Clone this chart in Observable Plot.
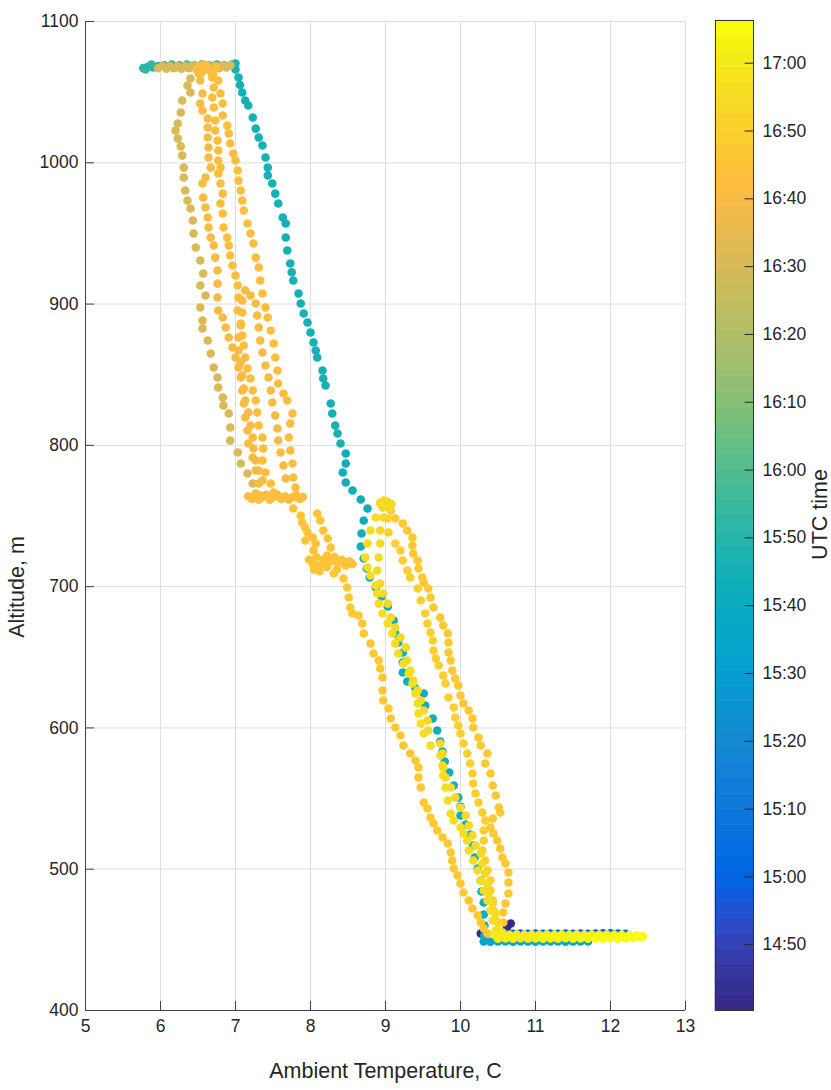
<!DOCTYPE html>
<html><head><meta charset="utf-8">
<script src="https://cdn.jsdelivr.net/npm/d3@7"></script>
<script src="https://cdn.jsdelivr.net/npm/@observablehq/plot@0.6"></script>
<style>
html,body{margin:0;padding:0;background:#fff;}
#wrap{position:relative;width:831px;height:1090px;overflow:hidden;background:#fff;}
#main{position:absolute;left:0;top:0;}
#cbar{position:absolute;left:700px;top:0;}
</style></head><body><div id="wrap"><div id="main"></div><div id="cbar"></div></div>
<script>
// ---------------- data (temperature °C, altitude m) ----------------
const xTicks = [5,6,7,8,9,10,11,12,13];
const yTicks = [400,500,600,700,800,900,1000,1100];
const cbTickLabels = ["14:50","15:00","15:10","15:20","15:30","15:40","15:50","16:00","16:10","16:20","16:30","16:40","16:50","17:00"];
const timeLimits = ["14:40:18","17:06:18"];

const groundEarly = [[10.27,454.5],[10.33,453.6],[10.62,459.0],[10.67,461.6]];
const groundBlue = [[10.6,454.3],[10.7,454.3],[10.8,454.5],[10.9,454.3],[11.0,454.4],[11.1,454.3],[11.2,454.5],[11.3,454.3],[11.4,454.4],[11.5,454.3],[11.6,454.5],[11.7,454.3],[11.8,454.4],[11.9,454.6],[12.0,454.7],[12.1,454.5],[12.2,454.3]];
const groundCyan = [[10.31,448.9],[10.4,448.7],[10.5,448.9],[10.6,448.8],[10.7,448.7],[10.8,448.9],[10.9,448.8],[11.0,448.7],[11.1,448.9],[11.2,448.8],[11.3,448.9],[11.4,448.7],[11.5,448.8],[11.6,448.9],[11.7,448.8]];
const climbLow = [[10.32,453.1],[10.32,460.2],[10.31,467.9],[10.31,476.4],[10.28,484.2],[10.27,492],[10.23,500.5],[10.19,508.3],[10.17,516.8],[10.13,524.6],[10.07,531.6],[10.0,538],[10.0,544.4],[9.97,550.8],[9.91,559.2],[9.85,568.5],[9.79,576.2],[9.76,583.3],[9.73,590.4],[9.69,598.2],[9.63,606.7],[9.53,615.9],[9.51,624.4],[9.4,627.9],[9.29,632.9],[9.23,639.2],[9.23,646.3],[9.23,653.4],[9.17,660.5],[9.13,666.8],[9.11,676],[9.03,685.9],[8.95,693],[8.87,699.4],[8.79,706.5],[8.75,712.8],[8.71,719.9],[8.67,728.4],[8.68,737.6],[8.71,746.8],[8.76,755.3],[8.67,761.7],[8.56,768],[8.47,773.7],[8.43,780.8],[8.47,787.2],[8.47,794.2]];
const climbHigh = [[8.4,801.3],[8.36,808.4],[8.33,814],[8.29,822.5],[8.27,829.6],[8.2,842.4],[8.17,847.3],[8.16,853],[8.09,862.2],[8.07,867.1],[8.04,872.8],[8.0,879.9],[7.96,887],[7.91,893.3],[7.87,900.4],[7.84,907.5],[7.77,916.7],[7.75,922.5],[7.73,928.7],[7.69,937.9],[7.67,947.1],[7.67,957],[7.63,961.3],[7.57,971.2],[7.53,978.2],[7.49,985.3],[7.43,991],[7.43,996.6],[7.4,1003.7],[7.36,1012.2],[7.31,1017.9],[7.27,1024.2],[7.23,1032],[7.17,1040.5],[7.13,1044.1],[7.09,1049.7],[7.06,1055],[7.04,1060.4],[7.0,1066],[7.0,1070.3]];
const topTeal = [[6.95,1069.5],[6.85,1069],[6.75,1069.5],[6.65,1069],[6.55,1069.5],[6.45,1069],[6.35,1069.5],[6.25,1069],[6.15,1069.5],[6.05,1069],[5.97,1068.5],[5.9,1067.5],[5.83,1068],[5.77,1067],[5.8,1066],[5.88,1069.5]];
const topOlive = [[5.97,1067],[6.03,1068.5],[6.08,1066.5],[6.13,1068.5],[6.18,1067],[6.23,1068.5],[6.28,1066.5],[6.33,1068.5],[6.38,1067],[6.43,1069],[6.48,1066.5],[6.53,1068.5],[6.58,1067],[6.63,1069],[6.68,1066.5],[6.73,1068.5],[6.78,1067],[6.83,1069],[6.88,1067.5],[6.93,1069]];
const descent1 = [[6.4,1059.6],[6.36,1054.7],[6.4,1049.7],[6.29,1044.1],[6.27,1035.6],[6.23,1027.8],[6.2,1022.8],[6.23,1017.2],[6.27,1011.6],[6.29,1005.1],[6.31,996.6],[6.31,989.6],[6.33,980.4],[6.36,973.3],[6.4,967.6],[6.43,959.1],[6.44,949.9],[6.47,940],[6.53,930.8],[6.57,921.6],[6.53,913.1],[6.6,906.1],[6.53,897.6],[6.56,888.4],[6.56,882.7],[6.63,874.2],[6.67,865],[6.71,855.1],[6.76,848],[6.77,840.9],[6.83,833.9],[6.84,828.2],[6.91,822.5],[6.93,812.6],[6.93,803.4],[7.03,794.9],[7.07,787.2],[7.16,780.1],[7.23,773],[7.27,765.9]];
const loop5 = [[7.36,775.1],[7.31,782.2],[7.27,789.3],[7.24,797.8],[7.23,805.6],[7.2,814],[7.17,823.2],[7.13,831.7],[7.11,840.2],[7.09,849.4],[7.07,858.6],[7.04,867.1],[7.04,876.3],[7.07,884.8],[7.09,894],[7.09,902.5],[7.13,909.6],[7.2,906.1],[7.27,900.4],[7.29,891.9],[7.31,883.4],[7.33,874.2],[7.36,865.7],[7.4,856.5],[7.44,848],[7.47,838.8],[7.49,830.3],[7.53,821.1],[7.56,811.9],[7.57,803.4],[7.6,794.9],[7.64,785.7],[7.67,776.5]];
const descent2 = [[6.51,1063.2],[6.53,1058.2],[6.56,1049],[6.53,1042],[6.56,1037],[6.63,1031.3],[6.63,1025],[6.63,1017.9],[6.64,1010.8],[6.64,1003.7],[6.67,996.6],[6.6,989.6],[6.56,985.3],[6.57,975.4],[6.6,968.3],[6.63,961.3],[6.64,954.2],[6.67,947.1],[6.71,941.4],[6.73,932.9],[6.76,923.8],[6.76,914.5],[6.76,904.6],[6.77,895.4],[6.83,890.5],[6.87,883.4],[6.91,876.3],[6.96,869.3],[7.0,862.2],[7.04,855.1],[7.07,848],[7.09,838.8],[7.11,829.6],[7.13,819.7],[7.16,810.5],[7.17,801.3],[7.23,791.4],[7.27,782.2],[7.31,773],[7.33,764.5]];
const topOrange = [[6.48,1066],[6.55,1064],[6.62,1067.5],[6.7,1063],[6.75,1068],[6.58,1069.5],[6.66,1065],[6.52,1068.5]];
const descent3 = [[6.69,1060.4],[6.71,1053.3],[6.69,1046.2],[6.71,1039.1],[6.73,1029.9],[6.73,1022.8],[6.76,1015.8],[6.77,1008.7],[6.77,1001.6],[6.8,996.6],[6.77,992.4],[6.8,985.3],[6.83,978.2],[6.8,971.2],[6.83,964.1],[6.84,954.2],[6.89,947.1],[6.91,941.4],[6.93,934.4],[6.96,927.3],[7.0,920.2],[7.03,913.1],[7.04,904.6],[7.03,895.4],[7.07,886.2],[7.09,877.7],[7.11,870.7],[7.13,862.2],[7.16,854.4],[7.2,847.3],[7.23,838.8],[7.27,831.7],[7.29,823.2],[7.31,814],[7.36,805.6],[7.37,797.8],[7.36,789.3],[7.4,780.8],[7.47,773],[7.51,766.6]];
const descent4 = [[6.77,1058.2],[6.8,1049],[6.83,1042],[6.83,1033.5],[6.89,1026.4],[6.91,1020.7],[6.93,1013.6],[6.97,1006.6],[7.0,1001.6],[7.03,994.5],[7.04,987.4],[7.07,980.4],[7.09,973.3],[7.11,966.2],[7.16,957],[7.2,949.9],[7.24,942.9],[7.27,932.9],[7.31,925.9],[7.33,916.7],[7.36,907.5],[7.4,897.6],[7.43,890.5],[7.47,881.3],[7.51,872.1],[7.53,862.2],[7.56,853],[7.57,843.8],[7.64,836.7],[7.69,831.7],[7.76,822.5],[7.73,815.5],[7.71,805.6],[7.73,796.4],[7.76,787.2],[7.77,777.3],[7.8,770.2],[7.83,763]];
const level762 = [[7.17,764],[7.22,762],[7.27,765],[7.31,761.5],[7.36,763.5],[7.41,765],[7.46,761.5],[7.51,763.5],[7.56,765],[7.61,762],[7.66,764],[7.71,761.5],[7.76,763.5],[7.81,765],[7.86,762],[7.9,763.5]];
const connector = [[7.77,755.3],[7.87,750.3],[7.89,745.4],[7.93,741.9],[7.96,738.3],[7.93,732.7],[8.03,734.8],[8.07,730.5],[8.04,725.6],[8.09,751.8],[8.13,746.8],[8.17,739.7],[8.23,734.1],[8.27,727.7]];
const level715 = [[7.98,719],[8.03,716],[8.08,721],[8.12,715],[8.17,719],[8.22,714],[8.27,718],[8.32,721],[8.37,716],[8.42,719],[8.47,715],[8.52,718],[8.56,716],[8.12,711],[8.22,722],[8.35,712],[8.05,712]];
const leftTrack = [[8.31,709.3],[8.44,705.8],[8.49,699.4],[8.51,692.3],[8.53,685.2],[8.56,681],[8.64,679.6],[8.69,673.9],[8.71,666.8],[8.8,659.8],[8.84,652.7],[8.91,647.7],[8.93,642.1],[8.96,635.7],[8.96,626.5],[8.97,619.4],[9.04,613.7],[9.07,606.7],[9.13,600.3],[9.2,594.6],[9.24,587.6],[9.33,581.9],[9.4,576.9],[9.44,572],[9.44,564.9],[9.47,557.8],[9.51,547.2],[9.56,543],[9.6,536.6],[9.64,532.4],[9.69,527.4],[9.76,522.4],[9.83,518.2],[9.87,511.8],[9.89,506.2],[9.91,500.5],[9.96,495.5],[10.0,489.9],[10.04,483.5],[10.11,477.9],[10.16,472.2],[10.23,467.2],[10.27,462.3],[10.31,458],[10.36,454.5]];
const climbY4 = [[10.57,462.3],[10.57,469.4],[10.6,475.7],[10.64,482.8],[10.64,490.6],[10.64,497.7],[10.6,504],[10.56,508.3],[10.53,514.7],[10.49,520.3],[10.44,525.3],[10.4,529.5],[10.43,535.9],[10.53,540.1],[10.51,543.7],[10.47,552.2],[10.43,559.2],[10.4,567.7],[10.33,574.8],[10.36,581.9],[10.27,587.6],[10.24,593.2],[10.17,600.3],[10.16,606.7],[10.11,612.3],[10.04,617.3],[10.0,623],[9.97,630],[9.93,635],[9.89,640.6],[9.87,647.7],[9.84,653.4],[9.84,660.5],[9.83,666.8],[9.77,672.5],[9.73,678.2],[9.64,685.2],[9.6,692.3],[9.57,698.7],[9.51,702.9],[9.49,706.5],[9.44,712.8],[9.43,718.5],[9.37,723.4],[9.36,729.1],[9.36,734.8],[9.29,739.7],[9.23,744.7],[9.13,748.2],[9.07,753.9],[9.03,758.8]];
const descY3 = [[9.0,757.4],[9.03,748.2],[9.04,738.3],[9.13,730.5],[9.2,725.6],[9.23,718.5],[9.29,711.4],[9.33,706.5],[9.43,698.7],[9.47,690.2],[9.53,681],[9.56,673.9],[9.6,667.5],[9.63,661.9],[9.64,654.8],[9.67,649.1],[9.71,644.2],[9.77,637.1],[9.8,631.4],[9.84,621.5],[9.91,614.5],[9.93,607.4],[9.97,601.7],[10.0,596.1],[10.04,589],[10.09,581.9],[10.13,574.8],[10.16,567.7],[10.17,560.7],[10.2,553.6],[10.24,547.2],[10.29,540.1],[10.33,534.5],[10.31,527.4],[10.31,520.3],[10.29,513.2],[10.33,506.2],[10.36,499.1],[10.4,492],[10.4,484.9],[10.43,477.9],[10.44,470.8],[10.47,463.7],[10.49,456.6]];
const climbY2 = [[10.56,455.2],[10.51,461.6],[10.47,468.7],[10.43,475.7],[10.37,482.8],[10.36,489.9],[10.33,497],[10.29,504],[10.27,511.1],[10.2,516.8],[10.16,523.9],[10.11,530.9],[10.07,538],[10.0,543.7],[9.93,550.8],[9.87,557.8],[9.8,564.9],[9.77,572],[9.76,581.9],[9.73,589],[9.57,598.2],[9.56,605.3],[9.51,612.3],[9.47,619.4],[9.43,626.5],[9.37,633.6],[9.33,640.6],[9.29,647.7],[9.27,657],[9.2,664],[9.13,671.1],[9.07,678.2],[9.03,688],[8.97,695.1],[8.93,702.2],[8.89,711.4],[8.91,720.6],[8.93,730.5],[8.93,739.7],[8.97,748.9],[9.03,758.8]];
const peak = [[8.93,759.5],[8.98,761],[9.03,760],[9.08,758.5],[8.96,756],[9.05,755.5]];
const descY1 = [[8.93,758.8],[8.87,748.9],[8.8,739.7],[8.76,730.5],[8.73,720.6],[8.76,713.5],[8.8,707.9],[8.87,700.8],[8.89,695.1],[8.91,688],[8.96,681],[9.03,673.9],[9.09,666.8],[9.13,659.8],[9.17,652.7],[9.24,645.6],[9.31,638.5],[9.36,631.4],[9.4,624.4],[9.43,617.3],[9.44,610.2],[9.47,603.1],[9.51,596.1],[9.6,587.6],[9.73,580.5],[9.76,573.4],[9.77,566.3],[9.8,557.8],[9.83,548.6],[9.87,539.4],[9.91,534.5],[10.0,529.5],[10.04,525.3],[10.09,520.3],[10.11,513.2],[10.17,506.2],[10.23,499.1],[10.27,492],[10.31,484.9],[10.36,477.9],[10.4,470.8],[10.43,463.7],[10.47,456.6]];
const taxiA = [[10.45,453.6],[10.5,450.9],[10.55,453.8],[10.6,451.0],[10.65,453.5],[10.7,450.8],[10.75,453.8],[10.8,451.1],[10.85,453.6],[10.9,450.9],[10.95,453.7],[11.0,451.0],[11.05,453.5]];
const taxiB = [[11.1,450.9],[11.15,453.8],[11.2,451.0],[11.25,453.6],[11.3,450.8],[11.35,453.7],[11.4,451.1],[11.45,453.5],[11.5,450.9],[11.55,453.8],[11.6,451.0],[11.65,453.6],[11.7,450.9],[11.75,453.7]];
const taxiC = [[11.8,451.0],[11.85,453.6],[11.9,450.9],[11.95,453.7],[12.0,451.1],[12.05,453.5],[12.1,450.9],[12.15,453.6],[12.2,451.2],[12.25,453.4],[12.3,451.3],[12.35,453.0],[12.4,451.8],[12.43,452.6]];

const segments = [
  [groundEarly,"14:42"],[groundBlue,"15:00"],[groundCyan,"15:35"],
  [climbLow,"15:44"],[climbHigh,"15:45"],[topTeal,"15:52"],[topOlive,"16:30"],
  [descent1,"16:32"],[loop5,"16:40"],[descent2,"16:41"],[topOrange,"16:42"],[descent3,"16:42"],[descent4,"16:43"],
  [level762,"16:43"],[connector,"16:44"],[level715,"16:45"],[leftTrack,"16:46"],
  [climbY4,"16:48"],[descY3,"16:50"],[climbY2,"16:53"],[peak,"16:53"],[descY1,"16:55"],
  [taxiA,"17:00"],[taxiB,"17:03"],[taxiC,"17:05"]
];

// ---------------- style: parula colormap (64) ----------------
const parula = [[0.2081,0.1663,0.5292],[0.2116,0.1898,0.5777],[0.2123,0.2138,0.6270],[0.2081,0.2386,0.6771],[0.1959,0.2645,0.7279],[0.1707,0.2919,0.7792],[0.1253,0.3242,0.8303],[0.0591,0.3598,0.8683],[0.0117,0.3875,0.8820],[0.0060,0.4086,0.8828],[0.0165,0.4266,0.8786],[0.0329,0.4430,0.8720],[0.0498,0.4586,0.8641],[0.0629,0.4737,0.8554],[0.0723,0.4887,0.8467],[0.0779,0.5040,0.8384],[0.0793,0.5200,0.8312],[0.0749,0.5375,0.8263],[0.0641,0.5570,0.8240],[0.0488,0.5772,0.8228],[0.0343,0.5966,0.8199],[0.0265,0.6137,0.8135],[0.0239,0.6287,0.8038],[0.0231,0.6418,0.7913],[0.0228,0.6535,0.7768],[0.0267,0.6642,0.7607],[0.0384,0.6743,0.7436],[0.0590,0.6838,0.7254],[0.0843,0.6928,0.7062],[0.1133,0.7015,0.6859],[0.1453,0.7098,0.6646],[0.1801,0.7177,0.6424],[0.2178,0.7250,0.6193],[0.2586,0.7317,0.5954],[0.3022,0.7376,0.5712],[0.3482,0.7424,0.5473],[0.3953,0.7459,0.5244],[0.4420,0.7481,0.5033],[0.4871,0.7491,0.4840],[0.5300,0.7491,0.4661],[0.5709,0.7485,0.4494],[0.6099,0.7473,0.4337],[0.6473,0.7456,0.4188],[0.6834,0.7435,0.4044],[0.7184,0.7411,0.3905],[0.7525,0.7384,0.3768],[0.7858,0.7356,0.3633],[0.8185,0.7327,0.3498],[0.8507,0.7299,0.3360],[0.8824,0.7274,0.3217],[0.9139,0.7258,0.3063],[0.9450,0.7261,0.2886],[0.9739,0.7314,0.2666],[0.9938,0.7455,0.2403],[0.9990,0.7653,0.2164],[0.9955,0.7861,0.1967],[0.9880,0.8066,0.1794],[0.9789,0.8271,0.1633],[0.9697,0.8481,0.1475],[0.9626,0.8705,0.1309],[0.9589,0.8949,0.1132],[0.9598,0.9218,0.0948],[0.9661,0.9514,0.0755],[0.9763,0.9831,0.0538]];
const parulaHex = parula.map(([r,g,b]) => d3.rgb(r*255,g*255,b*255).formatHex());

const toMin = s => { const p = s.split(":").map(Number); return p[0]*60 + p[1] + (p[2]||0)/60; };
const fmt = m => `${Math.floor(m/60)}:${String(Math.round(m%60)).padStart(2,"0")}`;
const [lo, hi] = timeLimits.map(toMin);
const step = (hi - lo) / parulaHex.length;
const thresholds = parulaHex.slice(1).map((_, i) => lo + (i+1)*step);
const bands = parulaHex.map((_, i) => ({a: lo + i*step, b: lo + (i+1)*step, mid: lo + (i+0.5)*step}));
const cbTicks = cbTickLabels.map(toMin);
const colorOpts = {type: "threshold", domain: thresholds, range: parulaHex};

const points = segments.flatMap(([pts, t]) => pts.map(([temp, alt]) => ({temp, alt, time: toMin(t)})));

function hasFont(name){
  const ctx = document.createElement("canvas").getContext("2d");
  const s = "0123456789 Ambient Temperature";
  ctx.font = "40px monospace"; const a = ctx.measureText(s).width;
  ctx.font = `40px "${name}", monospace`; const b = ctx.measureText(s).width;
  return a !== b;
}
const narrow = hasFont("Liberation Sans Narrow");
const FONT = narrow ? '"Liberation Sans Narrow", "Liberation Sans", Arial, sans-serif' : '"Liberation Sans", Arial, sans-serif';
const TICK = narrow ? 21 : 17.5;
const LABEL = narrow ? 26 : 21.5;
const INK = "#262626", AX = "#404040", GRID = "#dedede";

const main = Plot.plot({
  width: 700, height: 1090,
  marginLeft: 85, marginRight: 15, marginTop: 21, marginBottom: 80,
  style: {fontFamily: FONT, fontSize: TICK + "px", color: INK, background: "transparent", overflow: "visible"},
  x: {domain: [5, 13], ticks: xTicks, tickFormat: "d", tickSize: 0, tickPadding: 9, label: null},
  y: {domain: [400, 1100], ticks: yTicks, tickFormat: "d", tickSize: 0, tickPadding: 7, label: null},
  color: colorOpts,
  marks: [
    Plot.gridX(xTicks, {stroke: GRID, strokeOpacity: 1}),
    Plot.gridY(yTicks, {stroke: GRID, strokeOpacity: 1}),
    Plot.dot(points, {x: "temp", y: "alt", fill: "time", r: 4.3}),
    Plot.ruleX([5], {stroke: AX}),
    Plot.ruleY([400], {stroke: AX}),
    Plot.tickX(xTicks, {x: d => d, insetTop: 989 - 9, stroke: AX}),
    Plot.tickY(yTicks, {y: d => d, insetRight: 600 - 9, stroke: AX}),
    Plot.text(["Ambient Temperature, C"], {text: d => d, frameAnchor: "bottom", textAnchor: "middle", dy: 67, fontSize: LABEL, fill: INK}),
    Plot.text(["Altitude, m"], {text: d => d, frameAnchor: "left", textAnchor: "middle", dx: -68, dy: 71, rotate: -90, fontSize: LABEL, fill: INK})
  ]
});
document.getElementById("main").append(main);

const cbar = Plot.plot({
  width: 131, height: 1090,
  marginLeft: 15, marginRight: 78, marginTop: 20, marginBottom: 80,
  style: {fontFamily: FONT, fontSize: TICK + "px", color: INK, background: "transparent", overflow: "visible"},
  x: {domain: [0, 1], axis: null},
  y: {domain: [lo, hi], axis: "right", ticks: cbTicks, tickFormat: fmt, tickSize: 0, tickPadding: 9, label: null},
  color: colorOpts,
  marks: [
    Plot.rect(bands, {x1: 0, x2: 1, y1: "a", y2: "b", fill: "mid", stroke: "mid", strokeWidth: 0.6}),
    Plot.frame({stroke: "#333"}),
    Plot.ruleY(cbTicks, {y: d => d, x1: 0.78, x2: 1, stroke: INK}),
    Plot.text(["UTC time"], {text: d => d, frameAnchor: "right", textAnchor: "middle", dx: 67, dy: -1, rotate: -90, fontSize: LABEL, fill: INK})
  ]
});
document.getElementById("cbar").append(cbar);
</script></body></html>
